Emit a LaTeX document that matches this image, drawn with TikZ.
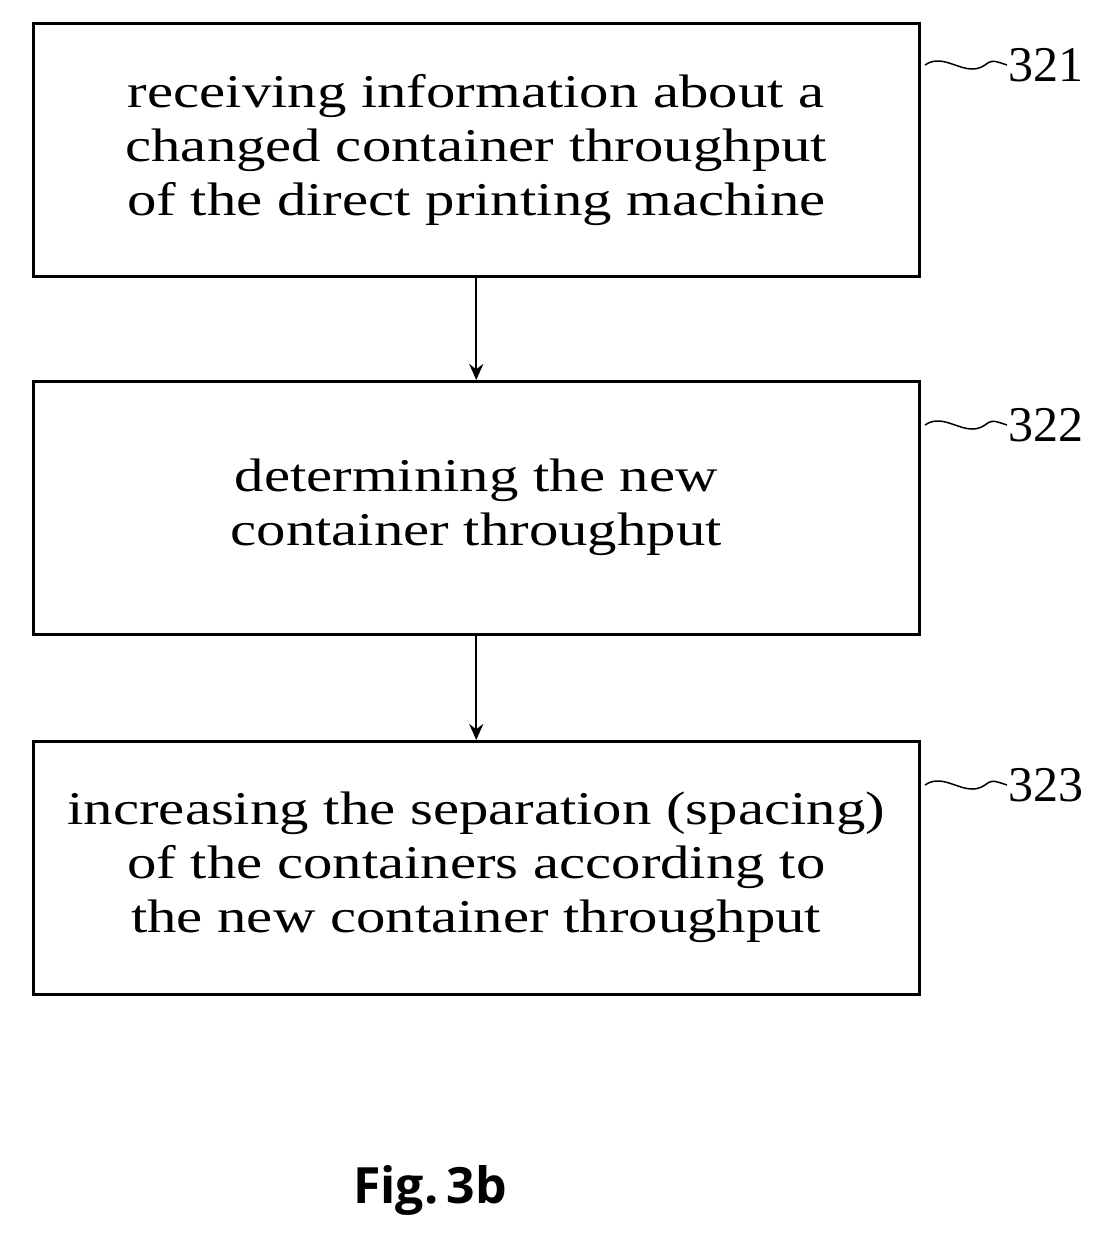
\documentclass[tikz,border=0pt]{standalone}
\usetikzlibrary{arrows.meta}
\usepackage{fontspec}
\setmainfont{Liberation Serif}
\newfontfamily\wide{Liberation Serif}[FakeStretch=1.25]
\setsansfont{Open Sans}
\begin{document}
\begin{tikzpicture}[x=1pt,y=-1pt,
 box/.style={draw,line width=2.5pt,minimum width=886pt,minimum height=253pt,anchor=north west,align=center,font=\wide\fontsize{47}{54}\selectfont,inner sep=0pt},
 arr/.style={line width=2pt,-{Stealth[length=16pt,width=14pt]}},
 lab/.style={font=\fontsize{50}{50}\selectfont,anchor=west,inner sep=1pt},
 sq/.style={line width=1.5pt}]
\useasboundingbox (0,0) rectangle (1109,1240);
\node[box] (b1) at (32,22) {receiving information about a\\changed container throughput\\of the direct printing machine};
\node[box] (b2) at (32,380) {determining the new\\container throughput};
\node[box] (b3) at (32,740) {increasing the separation (spacing)\\of the containers according to\\the new container throughput};
\draw[arr] (b1.south) -- (b2.north);
\draw[arr] (b2.south) -- (b3.north);
\foreach \n/\y/\t in {1/65/321,2/425/322,3/785/323}{
 \node[lab] (l\n) at (1007,\y) {\t};
 \coordinate (s\n) at (925,\y);
 \draw[sq] (s\n) .. controls (945,\y-14) and (965,\y+14) .. (985,\y) .. controls (992,\y-5) .. (l\n.west);
}
\node[font=\sffamily\bfseries\fontsize{50}{50}\selectfont] (fig) at (430,1190) {Fig.\,3b};
\end{tikzpicture}
\end{document}
